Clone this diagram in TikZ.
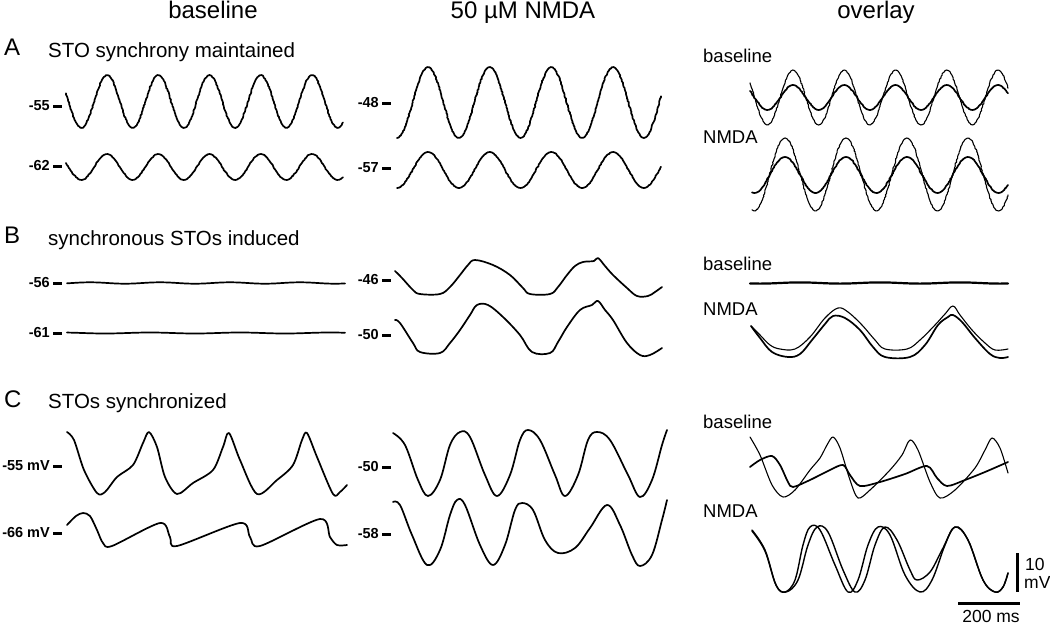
\documentclass[tikz,border=0pt]{standalone}
\usepackage{fontspec}
\setmainfont{Liberation Sans}
\usetikzlibrary{decorations.pathmorphing}
\tikzset{trace/.style={line width=1.7pt, line join=round, line cap=round},
         noisy/.style={decorate, decoration={random steps, segment length=1.5pt, amplitude=0.5pt}},
         fine/.style={line width=1.1pt},
         tick/.style={line width=3pt},
         mvlab/.style={font=\fontsize{14.5}{14.5}\selectfont\bfseries, anchor=east, inner sep=0pt},
         colhead/.style={font=\fontsize{24}{24}\selectfont, anchor=base, inner sep=0pt},
         panel/.style={font=\fontsize{24}{24}\selectfont, anchor=base west, inner sep=0pt},
         subhead/.style={font=\fontsize{20.5}{20.5}\selectfont, anchor=base west, inner sep=0pt},
         condlab/.style={font=\fontsize{18.5}{18.5}\selectfont, anchor=base west, inner sep=0pt},
         scalelab/.style={font=\fontsize{17.5}{17.5}\selectfont, inner sep=0pt},
        }
% sinusoidal oscillation: [opts]{x0}{x1}{mid}{amp}{peak}{period}
\newcommand{\sto}[7][]{\draw[trace,noisy,#1] plot[domain=#2:#3,samples=140] (\x,{#4-#5*cos((\x-#6)/#7*360)});}

\begin{document}
\begin{tikzpicture}[x=1pt,y=-1pt]
        \useasboundingbox (0,0) rectangle (1050,624);

        % column heads
        \node[colhead](hbase)at(213,18){baseline};
        \node[colhead](hnmda)at(523,18){50 µM NMDA};
        \node[colhead](hover)at(876,18){overlay};

        % panel A
        \node[panel](pA)at(4,55){A};
        \node[subhead](tA)at(48,57){STO synchrony maintained};
        \node[mvlab](vA1)at(50,106){-55};
        \node[mvlab](vA2)at(50,166){-62};
        \node[mvlab](vA3)at(379,103){-48};
        \node[mvlab](vA4)at(379,168){-57};
        \foreach \v in {vA1,vA2,vA3,vA4}
            \draw[tick]([xshift=3pt]\v.east)--++(9,0);
        \sto{66}{343}{101.5}{26.5}{107}{51.25}
        \sto{66}{343}{167}{13}{107}{51.25}
        \sto{397}{661}{102.5}{35.5}{428}{61.67}
        \sto{397}{661}{170}{18}{428}{61.67}
        \node[condlab](oAb)at(703,62){baseline};
        \node[condlab](oAn)at(703,143){NMDA};
        \sto[fine]{750}{1008}{97.5}{27.5}{793}{51.25}
        \sto{750}{1008}{97.5}{12.5}{793}{51.25}
        \sto[fine]{752}{1008}{174.5}{36.5}{785}{61}
        \sto{752}{1008}{175}{18}{785}{61}

        % panel B
        \node[panel](pB)at(4,243){B};
        \node[subhead](tB)at(48,245){synchronous STOs induced};
        \node[mvlab](vB1)at(50,283){-56};
        \node[mvlab](vB2)at(50,333){-61};
        \node[mvlab](vB3)at(379,280){-46};
        \node[mvlab](vB4)at(379,335){-50};
        \foreach \v in {vB1,vB2,vB3,vB4}
            \draw[tick]([xshift=3pt]\v.east)--++(9,0);
        \sto{67}{345}{283}{0.7}{300}{70}
        \sto{67}{345}{333}{0.5}{150}{90}
        \draw[trace]plot[smooth,tension=0.6]coordinates{(395,271)(402,278)(413,290)(420,294)(440,294)
            (450,287)(460,275)(468,265)(475,260)(493,265)(510,275)(523,288)(530,294)(550,294)
            (558,287)(567,275)(575,266)(583,262)(594,261)(598,258)(605,266)(613,275)(627,288)
            (637,296)(648,296)(655,292)(662,287)};
        \draw[trace]plot[smooth,tension=0.6]coordinates{(395,320)(400,323)(413,343)(420,352)(440,353)
            (450,343)(460,330)(470,315)(477,305)(488,305)(503,317)(520,335)(532,352)(550,353)
            (558,342)(567,327)(580,310)(592,305)(598,301)(605,310)(613,320)(627,343)(640,355)
            (650,355)(662,348)};
        \node[condlab](oBb)at(703,270){baseline};
        \node[condlab](oBn)at(703,315){NMDA};
        \sto[line width=2.2pt]{750}{1008}{283}{0.6}{880}{80}
        \draw[trace,fine]plot[smooth,tension=0.6]coordinates{(751,326)(760,335)(770,345)(780,349)
            (795,349)(810,337)(825,318)(838,308)(848,312)(862,325)(875,340)(885,349)(907,349)
            (920,340)(935,325)(945,314)(953,306)(960,315)(972,330)(985,343)(995,350)(1008,349)};
        \draw[trace]plot[smooth,tension=0.6]coordinates{(751,326)(760,338)(772,352)(788,357)
            (800,354)(812,340)(825,324)(833,316)(845,318)(860,330)(873,347)(885,357)(910,357)
            (925,345)(938,325)(948,317)(953,315)(962,322)(975,338)(990,354)(1000,358)(1008,357)};

        % panel C
        \node[panel](pC)at(4,407){C};
        \node[subhead](tC)at(48,408){STOs synchronized};
        \node[mvlab](vC1)at(50,466){-55 mV};
        \node[mvlab](vC2)at(50,533){-66 mV};
        \node[mvlab](vC3)at(379,467){-50};
        \node[mvlab](vC4)at(379,534){-58};
        \foreach \v in {vC1,vC2,vC3,vC4}
            \draw[tick]([xshift=3pt]\v.east)--++(9,0);
        \draw[trace]plot[smooth,tension=0.5]coordinates{(67,432)(74,440)(84,470)(97,493)(105,492)
            (117,477)(133,465)(143,443)(149,432)(157,447)(165,477)(177,494)(193,483)(213,470)
            (223,447)(229,433)(240,460)(257,494)(277,480)(293,465)(302,440)(307,433)(317,457)
            (333,494)(340,492)(347,485)};
        \draw[trace]plot[smooth,tension=0.5]coordinates{(67,525)(76,516)(83,513)(90,516)
            (97,530)(103,543)(112,546)(160,523)(170,537)(177,546)(240,523)(250,537)(260,546)
            (320,519)(330,537)(337,545)(347,545)};
        \draw[trace]plot[smooth,tension=0.6]coordinates{(393,433)(405,445)(418,480)(428,496)
            (440,480)(450,445)(460,432)(470,437)(485,475)(497,496)(510,475)(520,440)(528,430)
            (540,440)(555,475)(565,496)(578,475)(588,440)(597,432)(610,440)(628,475)(640,497)
            (652,480)(662,445)(667,430)};
        \draw[trace]plot[smooth,tension=0.6]coordinates{(393,502)(400,505)(412,535)(427,565)
            (440,550)(450,515)(457,500)(465,505)(480,545)(493,565)(505,545)(515,510)(522,503)
            (533,510)(545,540)(558,553)(575,548)(590,528)(607,505)(620,525)(632,555)(640,566)
            (652,555)(662,520)(667,500)};
        \node[condlab](oCb)at(703,428){baseline};
        \node[condlab](oCn)at(703,517){NMDA};
        \draw[trace,fine]plot[smooth,tension=0.5]coordinates{(750,437)(760,455)(772,485)(783,497)
            (795,490)(810,470)(820,458)(827,445)(833,437)(840,448)(850,480)(858,498)(870,490)
            (890,470)(902,455)(910,440)(918,450)(930,482)(940,498)(955,490)(975,468)(985,450)
            (992,438)(1000,448)(1008,473)};
        \draw[trace]plot[smooth,tension=0.5]coordinates{(750,467)(760,460)(772,456)(780,465)
            (788,482)(793,487)(810,480)(830,470)(843,465)(850,475)(860,486)(880,482)(905,474)
            (927,466)(937,478)(947,486)(965,480)(985,472)(1008,462)};
        \draw[trace,line width=1.4pt]plot[smooth,tension=0.6]coordinates{(752,530)(765,550)(776,585)(785,592)
            (795,580)(803,545)(810,527)(820,530)(835,565)(848,592)(858,580)(868,545)(878,527)
            (890,535)(905,575)(920,592)(932,580)(945,545)(955,527)(968,540)(983,580)(995,592)
            (1003,587)(1008,573)};
        \draw[trace,line width=1.4pt]plot[smooth,tension=0.6]coordinates{(752,531)(765,551)(776,585)(786,592)
            (798,580)(808,545)(817,527)(828,532)(843,570)(855,592)(865,580)(875,545)(885,527)
            (897,540)(910,570)(917,580)(930,572)(942,550)(955,527)(968,540)(983,580)(995,592)
            (1003,587)(1008,573)};

        % scale bars
        \coordinate(sv1)at(1017,553);
        \coordinate(sv2)at(1017,592);
        \coordinate(sh1)at(958,603);
        \coordinate(sh2)at(1020,603);
        \draw[tick](sv1)--(sv2);
        \draw[tick](sh1)--(sh2);
        \node[scalelab,anchor=west](s10)at(1025,564){10};
        \node[scalelab,anchor=west](smv)at(1024,582){mV};
        \node[scalelab,anchor=base](sms)at(991,622){200 ms};
    \end{tikzpicture}
\end{document}
